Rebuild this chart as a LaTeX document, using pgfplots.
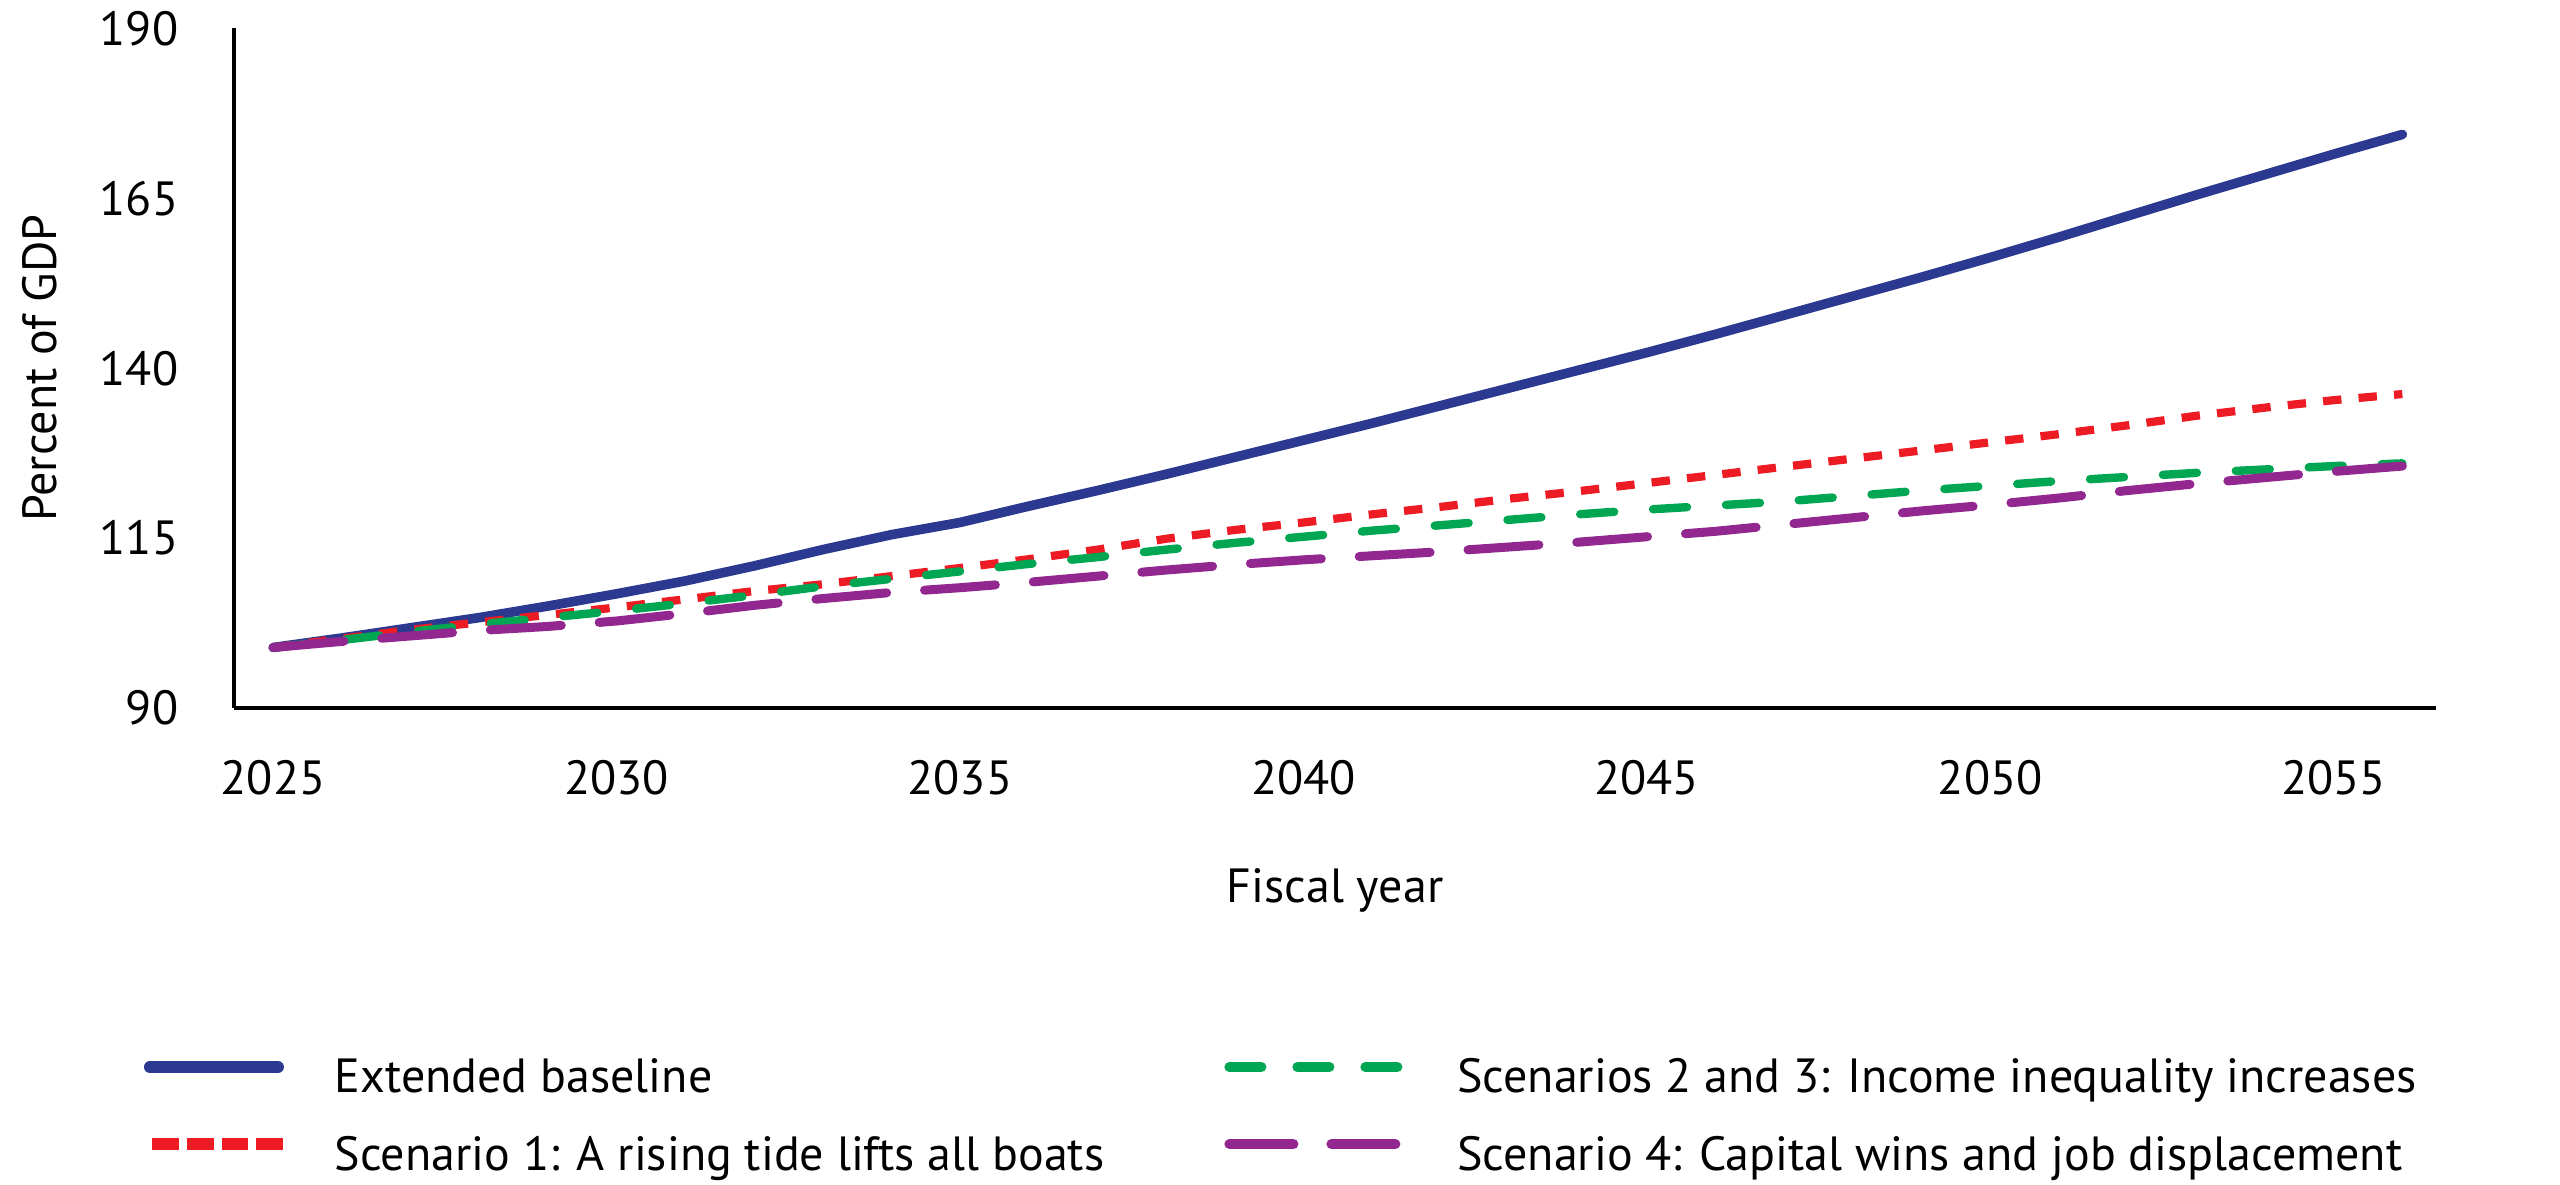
\documentclass[border=0pt]{standalone}
\usepackage{fontspec}
\setmainfont{PT Sans}
\usepackage{pgfplots}
\pgfplotsset{compat=1.18}
\definecolor{cboblue}{RGB}{43,57,144}
\definecolor{cbored}{RGB}{237,28,36}
\definecolor{cbogreen}{RGB}{0,166,81}
\definecolor{cbopurple}{RGB}{146,39,143}
\begin{document}
\begin{tikzpicture}[font=\fontsize{12}{14}\selectfont]
\useasboundingbox (0,0) rectangle (640pt,296.25pt);
\begin{axis}[
  at={(58.5pt,119.25pt)}, anchor=south west,
  scale only axis, width=550.5pt, height=169.875pt,
  xmin=2024.43, xmax=2056.49, ymin=90, ymax=190,
  axis x line=bottom, axis y line=left,
  axis line style={-, line width=0.9pt},
  xtick={2025,2030,2035,2040,2045,2050,2055},
  ytick={90,115,140,165,190},
  major tick length=0pt,
  /pgf/number format/1000 sep={},
  /pgf/number format/assume math mode=true,
  yticklabel style={anchor=east, inner sep=0pt, xshift=-13.75pt},
  xticklabel style={anchor=north, inner sep=0pt, yshift=-13pt},
  xlabel={Fiscal year},
  xlabel style={at={(axis description cs:0.5,0)}, anchor=base, yshift=-48.75pt, inner sep=0pt},
  ylabel={Percent of GDP},
  ylabel style={at={(axis description cs:-0.0804,0.5)}, anchor=base, inner sep=0pt},
  legend style={draw=none, fill=none, inner sep=0pt, outer sep=0pt,
    at={(axis description cs:-0.0409,-0.5136)}, anchor=north west,
    nodes={inner sep=0pt, text height=9pt, text depth=2.5pt},
    row sep=7.8pt,
    /tikz/column 1/.style={column sep=11.45pt},
    /tikz/column 2/.style={column sep=30pt},
    /tikz/column 3/.style={column sep=13.25pt}},
  legend cell align=left,
  legend columns=2,
]
\addplot[cboblue, line width=2.4pt, line cap=round, line join=round, forget plot] coordinates {
(2025,98.9) (2026,100.3) (2027,101.8) (2028,103.3) (2029,105.0) (2030,106.8)
(2031,108.7) (2032,110.9) (2033,113.3) (2034,115.5) (2035,117.3) (2036,119.7)
(2037,122.0) (2038,124.4) (2039,126.9) (2040,129.4) (2041,131.9) (2042,134.5)
(2043,137.1) (2044,139.7) (2045,142.3) (2046,145.0) (2047,147.8) (2048,150.6)
(2049,153.4) (2050,156.3) (2051,159.3) (2052,162.4) (2053,165.5) (2054,168.5)
(2055,171.5) (2056,174.4)};
\addplot[cbored, line width=2.05pt, dash pattern=on 4.6pt off 4.3pt, forget plot] coordinates {
(2025,98.9) (2026,100.2) (2027,101.5) (2028,102.6) (2029,103.7) (2030,104.8)
(2031,106.0) (2032,107.2) (2033,108.2) (2034,109.4) (2035,110.6) (2036,111.9)
(2037,113.3) (2038,114.9) (2039,116.2) (2040,117.3) (2041,118.5) (2042,119.6)
(2043,120.8) (2044,121.9) (2045,123.1) (2046,124.3) (2047,125.5) (2048,126.7)
(2049,127.9) (2050,129.1) (2051,130.3) (2052,131.6) (2053,133.0) (2054,134.2)
(2055,135.3) (2056,136.2)};
\addplot[cbogreen, line width=2.1pt, line cap=round, dash pattern=on 8.5pt off 9.75pt, forget plot] coordinates {
(2025,98.9) (2026,100.0) (2027,101.2) (2028,102.3) (2029,103.3) (2030,104.3)
(2031,105.4) (2032,106.6) (2033,107.9) (2034,109.0) (2035,110.1) (2036,111.2)
(2037,112.2) (2038,113.3) (2039,114.3) (2040,115.2) (2041,116.1) (2042,116.9)
(2043,117.7) (2044,118.5) (2045,119.2) (2046,119.8) (2047,120.4) (2048,121.2)
(2049,122.0) (2050,122.7) (2051,123.4) (2052,124.0) (2053,124.6) (2054,125.1)
(2055,125.6) (2056,126.0)};
\addplot[cbopurple, line width=2.25pt, line cap=round, dash pattern=on 17.75pt off 9.5pt, forget plot] coordinates {
(2025,98.9) (2026,99.8) (2027,100.6) (2028,101.4) (2029,102.0) (2030,102.8)
(2031,103.9) (2032,105.1) (2033,106.1) (2034,107.0) (2035,107.7) (2036,108.5)
(2037,109.4) (2038,110.3) (2039,111.1) (2040,111.8) (2041,112.4) (2042,113.0)
(2043,113.7) (2044,114.4) (2045,115.2) (2046,116.0) (2047,117.0) (2048,118.0)
(2049,119.0) (2050,119.9) (2051,120.9) (2052,122.0) (2053,123.0) (2054,123.9)
(2055,124.8) (2056,125.6)};
\addlegendimage{legend image code/.code={\draw[cboblue, line width=3pt, line cap=round] (1.5pt,3.25pt) -- (33.5pt,3.25pt);}}
\addlegendentry{Extended baseline}
\addlegendimage{legend image code/.code={\draw[cbogreen, line width=2.5pt, line cap=round, dash pattern=on 8pt off 9pt] (1.25pt,3.25pt) -- (43.25pt,3.25pt);}}
\addlegendentry{Scenarios 2 and 3: Income inequality increases}
\addlegendimage{legend image code/.code={\draw[cbored, line width=3pt, dash pattern=on 6.7pt off 2pt] (2pt,3.25pt) -- (34.8pt,3.25pt);}}
\addlegendentry{Scenario 1: A rising tide lifts all boats}
\addlegendimage{legend image code/.code={\draw[cbopurple, line width=2.5pt, line cap=round, dash pattern=on 16pt off 9.5pt] (1.25pt,3.25pt) -- (43.75pt,3.25pt);}}
\addlegendentry{Scenario 4: Capital wins and job displacement}
\end{axis}
\end{tikzpicture}
\end{document}
